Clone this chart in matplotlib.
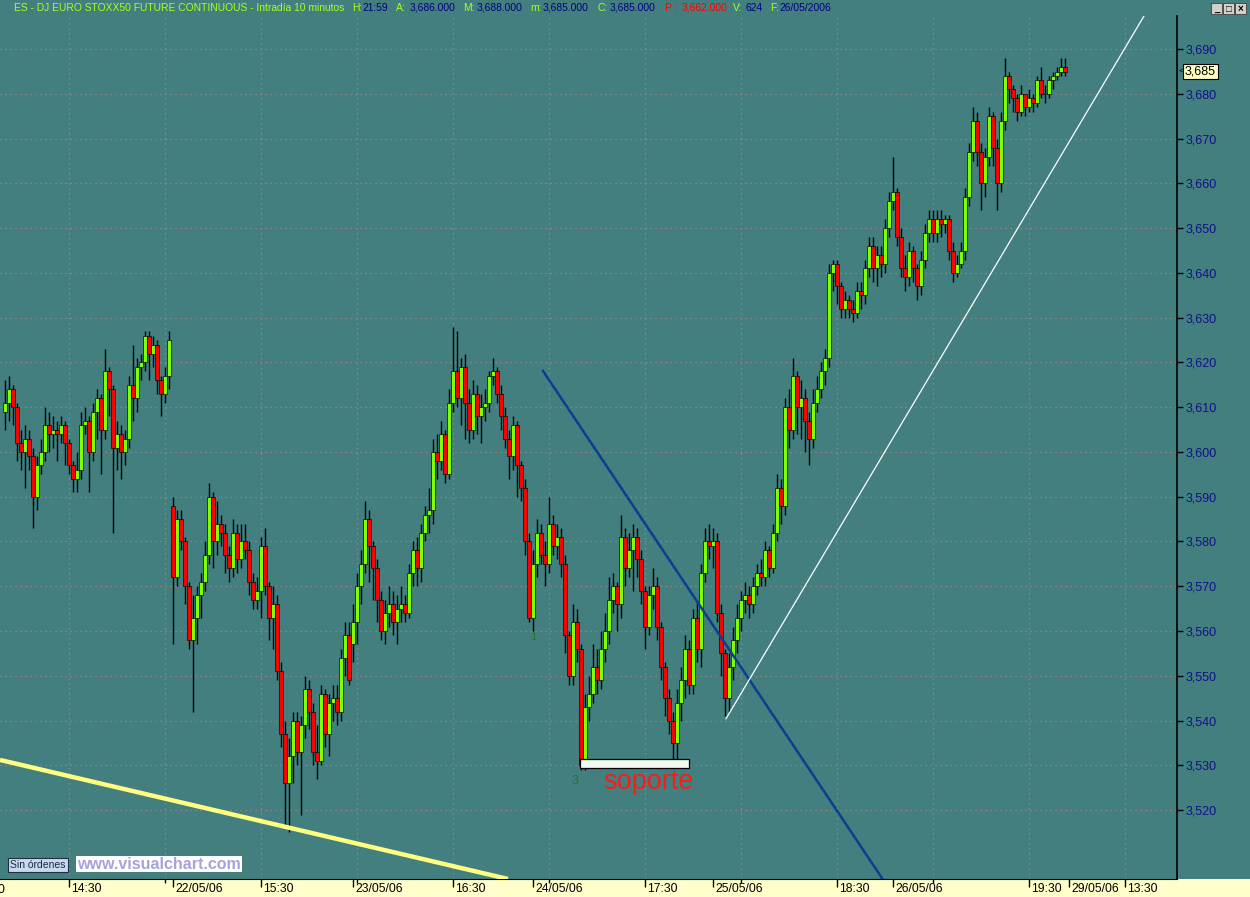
import matplotlib
matplotlib.use("Agg")
import matplotlib.pyplot as plt
from matplotlib.patches import Rectangle
import numpy as np

plt.rcParams["font.family"] = ["Liberation Sans", "DejaVu Sans"]

# 10-minute bars, one line per trading day (19/05 .. 26/05/2006)
opens = [
    3609, 3611, 3614, 3610, 3602, 3600, 3603, 3599, 3590, 3597, 3600, 3606, 3604, 3605, 3604, 3606, 3602, 3597, 3594, 3596, 3606, 3607, 3600, 3609, 3612, 3605, 3618, 3614, 3601, 3604, 3600, 3603, 3615, 3612, 3619, 3620, 3626, 3622, 3624, 3616, 3613, 3617,
    3588, 3572, 3585, 3580, 3570, 3558, 3563, 3568, 3571, 3577, 3590, 3580, 3584, 3582, 3577, 3574, 3582, 3576, 3580, 3578, 3571, 3567, 3569, 3579, 3570, 3563, 3566, 3551, 3537, 3526, 3532, 3540, 3533, 3539, 3547, 3542, 3533, 3531, 3546, 3537, 3544, 3545, 3542, 3554, 3559,
    3557, 3562, 3570, 3575, 3585, 3579, 3574, 3567, 3560, 3564, 3566, 3562, 3565, 3566, 3564, 3573, 3578, 3574, 3582, 3586, 3587, 3600, 3598, 3604, 3595, 3611, 3618, 3612, 3619, 3611, 3605, 3613, 3608, 3610, 3611, 3617, 3618, 3613, 3608, 3603, 3599, 3606, 3597, 3592, 3580,
    3563, 3575, 3582, 3577, 3575, 3584, 3579, 3581, 3575, 3559, 3550, 3562, 3556, 3530, 3543, 3546, 3552, 3549, 3556, 3560, 3567, 3570, 3566, 3581, 3574, 3578, 3581, 3576, 3569, 3561, 3568, 3570, 3561, 3552, 3545, 3540, 3535, 3544, 3549, 3556, 3548, 3563, 3556, 3573, 3580,
    3579, 3580, 3564, 3555, 3545, 3552, 3558, 3563, 3567, 3568, 3566, 3570, 3573, 3572, 3578, 3574, 3582, 3592, 3588, 3610, 3605, 3617, 3610, 3612, 3607, 3603, 3611, 3614, 3618, 3621, 3640, 3642, 3637, 3632, 3634, 3632, 3631, 3636, 3635, 3641, 3646, 3641, 3644, 3642, 3650,
    3656, 3658, 3648, 3641, 3639, 3645, 3641, 3637, 3643, 3649, 3652, 3649, 3652, 3651, 3652, 3645, 3640, 3642, 3645, 3657, 3667, 3674, 3667, 3660, 3666, 3675, 3668, 3660, 3674, 3684, 3681, 3679, 3676, 3680, 3677, 3679, 3678, 3683, 3680, 3680, 3683, 3684, 3685, 3686,
]
highs = [
    3616, 3617, 3615, 3611, 3605, 3606, 3605, 3601, 3599, 3603, 3610, 3609, 3608, 3607, 3608, 3607, 3603, 3598, 3600, 3609, 3610, 3608, 3611, 3614, 3613, 3623, 3619, 3615, 3607, 3606, 3605, 3617, 3624, 3621, 3622, 3627, 3627, 3626, 3625, 3617, 3619, 3627,
    3590, 3587, 3587, 3581, 3571, 3568, 3570, 3573, 3580, 3593, 3591, 3589, 3586, 3584, 3579, 3585, 3584, 3584, 3584, 3580, 3573, 3572, 3581, 3583, 3571, 3570, 3568, 3553, 3540, 3536, 3542, 3542, 3541, 3550, 3549, 3544, 3539, 3548, 3547, 3546, 3548, 3548, 3556, 3562, 3562,
    3566, 3573, 3578, 3589, 3587, 3580, 3576, 3569, 3567, 3570, 3569, 3568, 3570, 3568, 3575, 3580, 3581, 3584, 3588, 3592, 3603, 3604, 3607, 3605, 3614, 3628, 3627, 3621, 3622, 3614, 3616, 3615, 3613, 3614, 3618, 3621, 3619, 3615, 3610, 3605, 3608, 3607, 3598, 3594, 3582,
    3578, 3585, 3584, 3580, 3590, 3586, 3584, 3583, 3577, 3560, 3566, 3565, 3557, 3546, 3550, 3557, 3556, 3560, 3564, 3572, 3573, 3571, 3586, 3583, 3582, 3584, 3583, 3578, 3570, 3570, 3574, 3572, 3562, 3553, 3547, 3542, 3547, 3552, 3559, 3558, 3565, 3567, 3575, 3583, 3584,
    3583, 3582, 3566, 3556, 3555, 3561, 3566, 3569, 3571, 3570, 3572, 3575, 3576, 3580, 3579, 3584, 3595, 3594, 3612, 3614, 3621, 3618, 3616, 3614, 3609, 3614, 3617, 3620, 3623, 3642, 3643, 3643, 3638, 3636, 3635, 3634, 3638, 3638, 3643, 3648, 3648, 3646, 3646, 3652, 3658,
    3666, 3659, 3650, 3644, 3647, 3646, 3642, 3645, 3651, 3654, 3654, 3654, 3654, 3653, 3653, 3647, 3644, 3647, 3659, 3669, 3677, 3676, 3669, 3668, 3677, 3676, 3670, 3676, 3688, 3685, 3682, 3680, 3682, 3680, 3681, 3680, 3684, 3686, 3682, 3684, 3685, 3686, 3688, 3688,
]
lows = [
    3605, 3607, 3606, 3598, 3596, 3592, 3596, 3583, 3587, 3595, 3598, 3600, 3601, 3598, 3602, 3597, 3595, 3591, 3591, 3594, 3604, 3591, 3598, 3603, 3595, 3603, 3608, 3582, 3596, 3594, 3597, 3601, 3607, 3609, 3616, 3618, 3616, 3619, 3613, 3608, 3611, 3614,
    3557, 3570, 3578, 3566, 3556, 3542, 3557, 3563, 3569, 3575, 3574, 3577, 3579, 3573, 3571, 3572, 3573, 3574, 3576, 3568, 3565, 3565, 3563, 3568, 3558, 3556, 3549, 3534, 3516, 3515, 3526, 3530, 3519, 3536, 3538, 3530, 3527, 3530, 3534, 3532, 3540, 3539, 3540, 3550, 3548,
    3553, 3557, 3566, 3573, 3571, 3567, 3562, 3558, 3557, 3561, 3559, 3557, 3562, 3562, 3563, 3570, 3570, 3571, 3580, 3582, 3584, 3594, 3596, 3593, 3594, 3609, 3610, 3606, 3603, 3602, 3603, 3604, 3602, 3607, 3609, 3615, 3611, 3605, 3601, 3594, 3596, 3590, 3589, 3577, 3562,
    3560, 3572, 3575, 3570, 3573, 3577, 3576, 3572, 3555, 3548, 3548, 3553, 3529, 3529, 3540, 3544, 3546, 3547, 3553, 3557, 3564, 3560, 3563, 3570, 3572, 3569, 3572, 3566, 3556, 3559, 3565, 3558, 3549, 3541, 3537, 3531, 3530, 3540, 3545, 3546, 3546, 3553, 3552, 3571, 3576,
    3574, 3562, 3550, 3541, 3542, 3549, 3555, 3560, 3564, 3563, 3564, 3568, 3570, 3570, 3572, 3573, 3580, 3584, 3586, 3601, 3603, 3604, 3603, 3600, 3597, 3601, 3609, 3612, 3615, 3619, 3636, 3633, 3630, 3630, 3630, 3629, 3630, 3632, 3633, 3639, 3638, 3637, 3639, 3640, 3648,
    3654, 3646, 3639, 3636, 3637, 3638, 3634, 3635, 3641, 3647, 3647, 3647, 3648, 3649, 3643, 3638, 3639, 3641, 3643, 3655, 3665, 3664, 3654, 3657, 3664, 3664, 3654, 3658, 3672, 3678, 3676, 3674, 3675, 3675, 3676, 3676, 3677, 3679, 3678, 3679, 3681, 3683, 3684, 3684,
]
closes = [
    3611, 3614, 3610, 3602, 3600, 3603, 3599, 3590, 3597, 3600, 3606, 3604, 3605, 3604, 3606, 3602, 3597, 3594, 3596, 3606, 3607, 3600, 3609, 3612, 3605, 3618, 3614, 3601, 3604, 3600, 3603, 3615, 3612, 3619, 3620, 3626, 3622, 3624, 3616, 3613, 3617, 3625,
    3572, 3585, 3580, 3570, 3558, 3563, 3568, 3571, 3577, 3590, 3580, 3584, 3582, 3577, 3574, 3582, 3576, 3580, 3578, 3571, 3567, 3569, 3579, 3570, 3563, 3566, 3551, 3537, 3526, 3532, 3540, 3533, 3539, 3547, 3542, 3533, 3531, 3546, 3537, 3544, 3545, 3542, 3554, 3559, 3549,
    3562, 3570, 3575, 3585, 3579, 3574, 3567, 3560, 3564, 3566, 3562, 3565, 3566, 3564, 3573, 3578, 3574, 3582, 3586, 3587, 3600, 3598, 3604, 3595, 3611, 3618, 3612, 3619, 3611, 3605, 3613, 3608, 3610, 3611, 3617, 3618, 3613, 3608, 3603, 3599, 3606, 3597, 3592, 3580, 3563,
    3575, 3582, 3577, 3575, 3584, 3579, 3581, 3575, 3559, 3550, 3562, 3556, 3530, 3543, 3546, 3552, 3549, 3556, 3560, 3567, 3570, 3566, 3581, 3574, 3578, 3581, 3576, 3569, 3561, 3568, 3570, 3561, 3552, 3545, 3540, 3535, 3544, 3549, 3556, 3548, 3563, 3556, 3573, 3580, 3579,
    3580, 3564, 3555, 3545, 3552, 3558, 3563, 3567, 3568, 3566, 3570, 3573, 3572, 3578, 3574, 3582, 3592, 3588, 3610, 3605, 3617, 3610, 3612, 3607, 3603, 3611, 3614, 3618, 3621, 3640, 3642, 3637, 3632, 3634, 3632, 3631, 3636, 3635, 3641, 3646, 3641, 3644, 3642, 3650, 3656,
    3658, 3648, 3641, 3639, 3645, 3641, 3637, 3643, 3649, 3652, 3649, 3652, 3651, 3652, 3645, 3640, 3642, 3645, 3657, 3667, 3674, 3667, 3660, 3666, 3675, 3668, 3660, 3674, 3684, 3681, 3679, 3676, 3680, 3677, 3679, 3678, 3683, 3680, 3680, 3683, 3684, 3685, 3686, 3685,
]
day_bars = [42, 45, 45, 45, 45, 44]
day_labels = ["22/05/06", "23/05/06", "24/05/06", "25/05/06", "26/05/06", "29/05/06"]
hour_labels = ["14:30", "15:30", "16:30", "17:30", "18:30", "19:30", "13:30"]
hour_label_pos = [16, 64, 112, 160, 208, 256, 280]
hour_grid_pos = [16, 40, 64, 88, 112, 136, 160, 184, 208, 232, 256, 280]
last_price = 3685

# hand drawn lines (bar index, price)
yellow_x, yellow_y = [-1.25, 125.75], [3531.2, 3504.6]
blue_x, blue_y = [134.5, 219.4], [3618.1, 3504.6]
white_x, white_y = [180.25, 284.75], [3540.4, 3697.4]
support_x, support_y = [143.75, 171.0], [3529.4, 3531.4]

TEAL = "#437f7f"
GRID = "#a88484"
LIME = "#80ff00"
RED = "#ff0000"
NAVY = "#10108a"

W, H = 1250, 897
fig = plt.figure(figsize=(12.5, 8.97), dpi=100)
fig.patch.set_facecolor(TEAL)
fig.add_artist(Rectangle((0, 0), 1, 18 / H, transform=fig.transFigure,
                         facecolor="#ffffcc", edgecolor="none", zorder=-5))

ax = fig.add_axes([0, 18 / H, 1177 / W, (879 - 16) / H])
ax.set_facecolor(TEAL)
ax.set_xlim(-1.25, 293)
ax.set_ylim(3504.6, 3697.4)
for s in ["top", "left"]:
    ax.spines[s].set_visible(False)
ax.spines["bottom"].set_color("black")
ax.spines["right"].set_color("black")
ax.spines["right"].set_linewidth(1.2)

# grid
ax.set_axisbelow(True)
ax.yaxis.tick_right()
ax.set_yticks(range(3520, 3691, 10))
ax.set_yticklabels([f"{v:,}" for v in range(3520, 3691, 10)])
ax.tick_params(axis="y", direction="out", length=4, width=1, colors="black",
               labelcolor=NAVY, labelsize=9, pad=2)
ax.grid(axis="y", color=GRID, linestyle=(0, (1, 3)), linewidth=0.9)
for g in hour_grid_pos:
    ax.axvline(g, color=GRID, linestyle=(0, (1, 3)), linewidth=0.9, zorder=0.5)

# candles
o, hi, lo, c = map(np.array, (opens, highs, lows, closes))
idx = np.arange(len(c))
cols = np.where(c >= o, LIME, RED)
ax.vlines(idx, lo, hi, color="black", linewidth=1.0, zorder=2)
ax.bar(idx, np.maximum(np.abs(c - o), 0.3), bottom=np.minimum(o, c), width=0.85,
       color=cols, edgecolor="black", linewidth=0.45, zorder=3)

# lines
ax.plot(yellow_x, yellow_y, color="#ffff80", linewidth=3.2, zorder=4, solid_capstyle="butt")
ax.plot(blue_x, blue_y, color="#0b3f8f", linewidth=1.8, zorder=4)
ax.plot(white_x, white_y, color="white", linewidth=0.9, zorder=4)
ax.add_patch(Rectangle((support_x[0], support_y[0]), support_x[1] - support_x[0],
                       support_y[1] - support_y[0], facecolor="#f2faf0",
                       edgecolor="black", linewidth=0.9, zorder=5))
ax.text(149.5, 3524.8, "soporte", color="#ff1a1a", fontsize=19.5, zorder=6,
        ha="left", va="baseline")
ax.text(132.0, 3558.7, "1", color="#207a20", fontsize=8, ha="center", va="center")
ax.text(142.5, 3526.5, "3", color="#207a20", fontsize=9, ha="center", va="center")

# x axis
starts = np.cumsum(day_bars)
ax.set_xticks(list(starts) + hour_label_pos)
ax.set_xticklabels([])
ax.set_xticks(hour_grid_pos, minor=True)
ax.tick_params(axis="x", which="major", direction="out", length=6, width=1, colors="black")
ax.tick_params(axis="x", which="minor", direction="out", length=3, width=1, colors="black")
xt = ax.get_xaxis_transform()
for p, lab in zip(starts, day_labels):
    ax.text(p + 0.6, -4 / 863, lab, transform=xt, ha="left", va="top", fontsize=8.7,
            color="black", clip_on=False)
for p, lab in zip(hour_label_pos, hour_labels):
    ax.text(p + 0.6, -4 / 863, lab, transform=xt, ha="left", va="top", fontsize=8.7,
            color="black", clip_on=False)
fig.text(-2 / W, 1 - 884 / H, "0", ha="left", va="top", fontsize=8.7, color="black")

# last price flag
yt = ax.get_yaxis_transform()
ax.text(1185 / 1177, last_price, f"{last_price:,}", transform=yt, ha="left", va="center",
        fontsize=9, color="black", clip_on=False,
        bbox=dict(boxstyle="square,pad=0.15", facecolor="#ffffc0", edgecolor="black", linewidth=0.8))
ax.text(1179 / 1177, last_price, "<", transform=yt, ha="left", va="center", fontsize=6, color="black")

# header
title_parts = [
    ("ES - DJ EURO STOXX50 FUTURE CONTINUOUS - Intradía 10 minutos", 14, "#a8ff20"),
    ("H:", 352, "#a8ff20"), ("21:59", 362, "#000080"),
    ("A:", 396, "#a8ff20"), ("3,686.000", 410, "#000080"),
    ("M:", 463, "#a8ff20"), ("3,688.000", 477, "#000080"),
    ("m:", 530, "#a8ff20"), ("3,685.000", 543, "#000080"),
    ("C:", 598, "#a8ff20"), ("3,685.000", 610, "#000080"),
    ("P :", 665, "#ff0000"), ("3,662.000", 682, "#ff0000"),
    ("V:", 733, "#a8ff20"), ("624", 745, "#000080"),
    ("F:", 770, "#a8ff20"), ("26/05/2006", 780, "#000080"),
]
for s, x, col in title_parts:
    fig.text(x / W, 1 - 8 / H, s, color=col, fontsize=7.4, ha="left", va="center")

for i, sym in enumerate(["_", "□", "×"]):
    x0 = 1211 + 12 * i
    fig.add_artist(Rectangle((x0 / W, 1 - 14 / H), 11 / W, 11 / H, transform=fig.transFigure,
                             facecolor="#d4d0c8", edgecolor="#404040", linewidth=0.6))
    fig.text((x0 + 5.5) / W, 1 - 8.5 / H, sym, ha="center", va="center", fontsize=7,
             color="black", fontweight="bold")

fig.text(10 / W, 1 - 865 / H, "Sin órdenes", ha="left", va="center", fontsize=7.5, color="#1a2a40",
         bbox=dict(boxstyle="square,pad=0.2", facecolor="#c8d8f0", edgecolor="#203040", linewidth=0.8))
fig.text(77 / W, 1 - 864 / H, "www.visualchart.com", ha="left", va="center", fontsize=11.5,
         fontweight="bold", color="#a4a4dc",
         bbox=dict(boxstyle="square,pad=0.05", facecolor="white", edgecolor="none"))

fig.savefig("out.png", dpi=100, facecolor=fig.get_facecolor())
